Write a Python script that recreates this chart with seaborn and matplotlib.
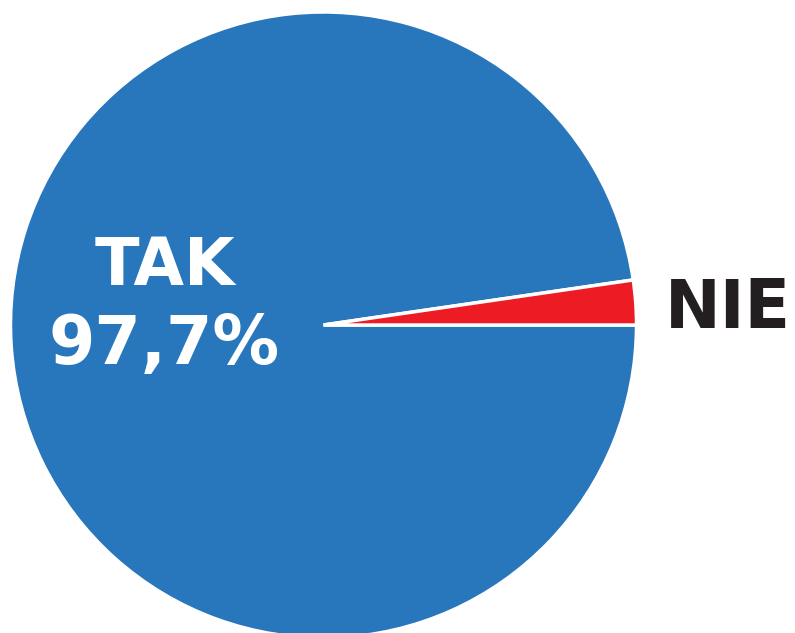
import matplotlib
matplotlib.use("Agg")
import matplotlib.pyplot as plt
import seaborn as sns

# Data
labels = ["TAK", "NIE"]
values = [97.7, 2.3]
value_text = ["97,7%", ""]
colors = ["#2876bb", "#ed1c24"]

sns.set_theme(style="white")
plt.rcParams["font.family"] = ["DejaVu Sans"]

fig = plt.figure(figsize=(7.95, 6.33), dpi=100)
ax = fig.add_axes([0, 0, 1, 1])

# put NIE wedge just above the horizontal on the right
start = 360 * values[1] / sum(values)
ax.pie(
    values,
    colors=colors,
    startangle=start,
    counterclock=True,
    radius=1.0,
    wedgeprops=dict(edgecolor="white", linewidth=2.5),
)

# pixel mapping: center at (323.5, 325), radius 313 px
scale = 313.0
ax.set_aspect("auto")
ax.set_xlim(-323.5 / scale, (795 - 323.5) / scale)
ax.set_ylim(-(633 - 325) / scale, 325 / scale)
ax.axis("off")

ax.text(-0.506, 0.185, labels[0], color="white", fontsize=47, fontweight="bold",
        ha="center", va="center")
ax.text(-0.51, -0.063, value_text[0], color="white", fontsize=48, fontweight="bold",
        ha="center", va="center")
ax.text(1.09, 0.05, labels[1], color="#231f20", fontsize=48, fontweight="bold",
        ha="left", va="center")

fig.savefig("out.png", dpi=100)
